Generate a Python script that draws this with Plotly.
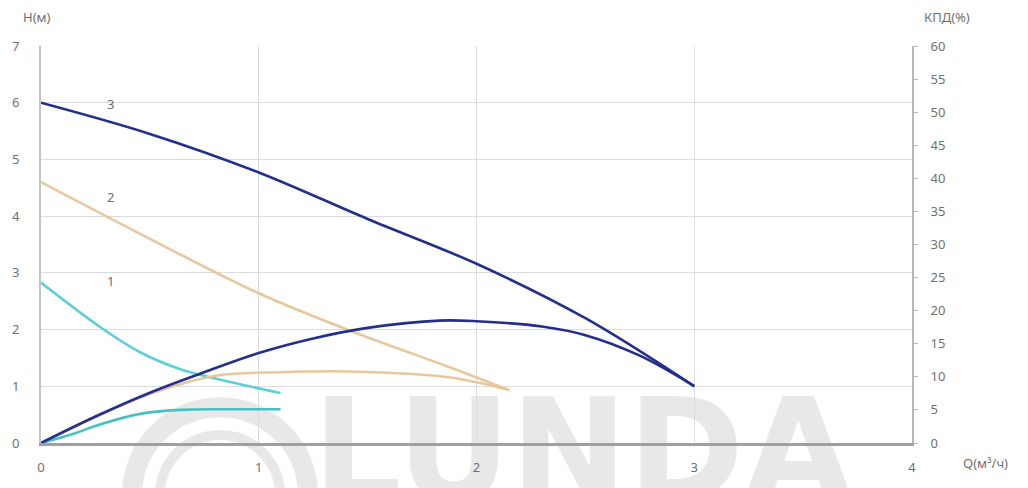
import plotly.graph_objects as go

# ---- data ----
x_ticks = [0, 1, 2, 3, 4]
h_ticks = [0, 1, 2, 3, 4, 5, 6, 7]
eff_ticks = list(range(0, 61, 5))

q1_head = [0, 0.27, 0.455, 0.64, 0.82, 1.1]
h1_head = [2.83, 2.05, 1.6, 1.3, 1.12, 0.88]
q1_eff = [0, 0.15, 0.27, 0.455, 0.64, 0.82, 1.1]
e1_eff = [0, 1.4, 2.8, 4.4, 5.0, 5.1, 5.1]

q2_head = [0, 0.5, 1.0, 1.42, 1.88, 2.15]
h2_head = [4.6, 3.6, 2.64, 1.98, 1.33, 0.93]
q2_eff = [0, 0.25, 0.5, 0.81, 1.1, 1.42, 1.88, 2.15]
e2_eff = [0, 3.9, 7.4, 10.2, 10.7, 10.8, 9.9, 8.0]

q3_head = [0, 0.5, 1.0, 1.5, 2.0, 2.5, 3.0]
h3_head = [6.0, 5.45, 4.77, 3.95, 3.16, 2.2, 1.0]
q3_eff = [0, 0.25, 0.5, 0.75, 1.0, 1.25, 1.5, 1.83, 2.0, 2.3, 2.5, 2.75, 3.0]
e3_eff = [0, 4.0, 7.6, 10.7, 13.6, 15.8, 17.4, 18.5, 18.4, 17.6, 16.3, 13.2, 8.6]

curve_labels = ["1", "2", "3"]
label_q = [0.32, 0.32, 0.32]
label_h = [2.85, 4.34, 5.97]

watermark = "LUNDA"

# ---- styling ----
NAVY = "#232f8b"
TAN = "#e7c89d"
CYAN = "#5ccfd7"
CYAN2 = "#47c0c2"
WM = "#e8e8e8"
TXT = "#707070"
FONT = "Noto Sans"

W, H = 1028, 488
L, R, T, B = 41, 116, 46, 42
PW, PH = W - L - R, H - T - B


def px2paper(px, py):
    return (px - L) / PW, (H - B - py) / PH


fig = go.Figure()

spline = dict(shape="spline", smoothing=1.0, width=2.6)

fig.add_trace(go.Scatter(x=q2_eff, y=e2_eff, yaxis="y2", mode="lines",
                         line=dict(color=TAN, **spline), showlegend=False))
fig.add_trace(go.Scatter(x=q2_head, y=h2_head, mode="lines",
                         line=dict(color=TAN, **spline), showlegend=False))
fig.add_trace(go.Scatter(x=q1_eff, y=e1_eff, yaxis="y2", mode="lines",
                         line=dict(color=CYAN2, **spline), showlegend=False))
fig.add_trace(go.Scatter(x=q1_head, y=h1_head, mode="lines",
                         line=dict(color=CYAN, **spline), showlegend=False))
fig.add_trace(go.Scatter(x=q3_eff, y=e3_eff, yaxis="y2", mode="lines",
                         line=dict(color=NAVY, **spline), showlegend=False))
fig.add_trace(go.Scatter(x=q3_head, y=h3_head, mode="lines",
                         line=dict(color=NAVY, **spline), showlegend=False))

shapes = []
# watermark rings
cx, cy = 220, 498
for rad, wdt in [(88, 20), (60, 10)]:
    x0, y0 = px2paper(cx - rad, cy + rad)
    x1, y1 = px2paper(cx + rad, cy - rad)
    shapes.append(dict(type="circle", xref="paper", yref="paper",
                       x0=x0, y0=y0, x1=x1, y1=y1, layer="below",
                       line=dict(color=WM, width=wdt)))
# watermark word (shape label, beneath grid and curves)
x0, y0 = px2paper(315, 503)
x1, y1 = px2paper(850, 383)
shapes.append(dict(type="rect", xref="paper", yref="paper",
                   x0=x0, y0=y0, x1=x1, y1=y1, layer="below",
                   line=dict(width=0, color="rgba(0,0,0,0)"), fillcolor="rgba(0,0,0,0)",
                   label=dict(text=watermark, textposition="middle center",
                              font=dict(family="DejaVu Sans", size=140, color=WM,
                                        weight="bold"))))

annotations = []
for t, qx, hy in zip(curve_labels, label_q, label_h):
    annotations.append(dict(x=qx, y=hy, xref="x", yref="y", text=t, showarrow=False,
                            font=dict(family=FONT, size=13, color=TXT)))

for txt, (px, py) in [("H(м)", (37, 17)), ("КПД(%)", (947, 17)), ("Q(м³/ч)", (985, 466))]:
    ax, ay = px2paper(px, py)
    annotations.append(dict(x=ax, y=ay, xref="paper", yref="paper", text=txt,
                            showarrow=False, xanchor="center", yanchor="middle",
                            font=dict(family=FONT, size=13, color=TXT)))

fig.update_layout(
    width=W, height=H,
    margin=dict(l=L, r=R, t=T, b=B, pad=0),
    paper_bgcolor="white", plot_bgcolor="rgba(0,0,0,0)",
    showlegend=False,
    shapes=shapes, annotations=annotations,
    xaxis=dict(range=[0, 4], tickvals=x_ticks, ticktext=[str(v) for v in x_ticks],
               showgrid=True, gridcolor="#dcdcdc", gridwidth=1,
               showline=True, linecolor="#a0a0a0", linewidth=3,
               zeroline=False, ticks="", ticklabelstandoff=10,
               tickfont=dict(family=FONT, size=13, color=TXT)),
    yaxis=dict(range=[0, 7], tickvals=h_ticks, ticktext=[str(v) for v in h_ticks],
               showgrid=True, gridcolor="#dcdcdc", gridwidth=1,
               showline=True, linecolor="#c4c4c4", linewidth=2,
               zeroline=False, ticks="", ticklabelstandoff=17,
               tickfont=dict(family=FONT, size=13, color=TXT)),
    yaxis2=dict(range=[0, 60], tickvals=eff_ticks, ticktext=[str(v) for v in eff_ticks],
                overlaying="y", side="right", showgrid=False,
                showline=True, linecolor="#b8b8b8", linewidth=2,
                zeroline=False, ticks="outside", ticklen=4, tickcolor="#b8b8b8",
                ticklabelstandoff=10,
                tickfont=dict(family=FONT, size=13, color=TXT)),
)

fig.write_html("out.html")
